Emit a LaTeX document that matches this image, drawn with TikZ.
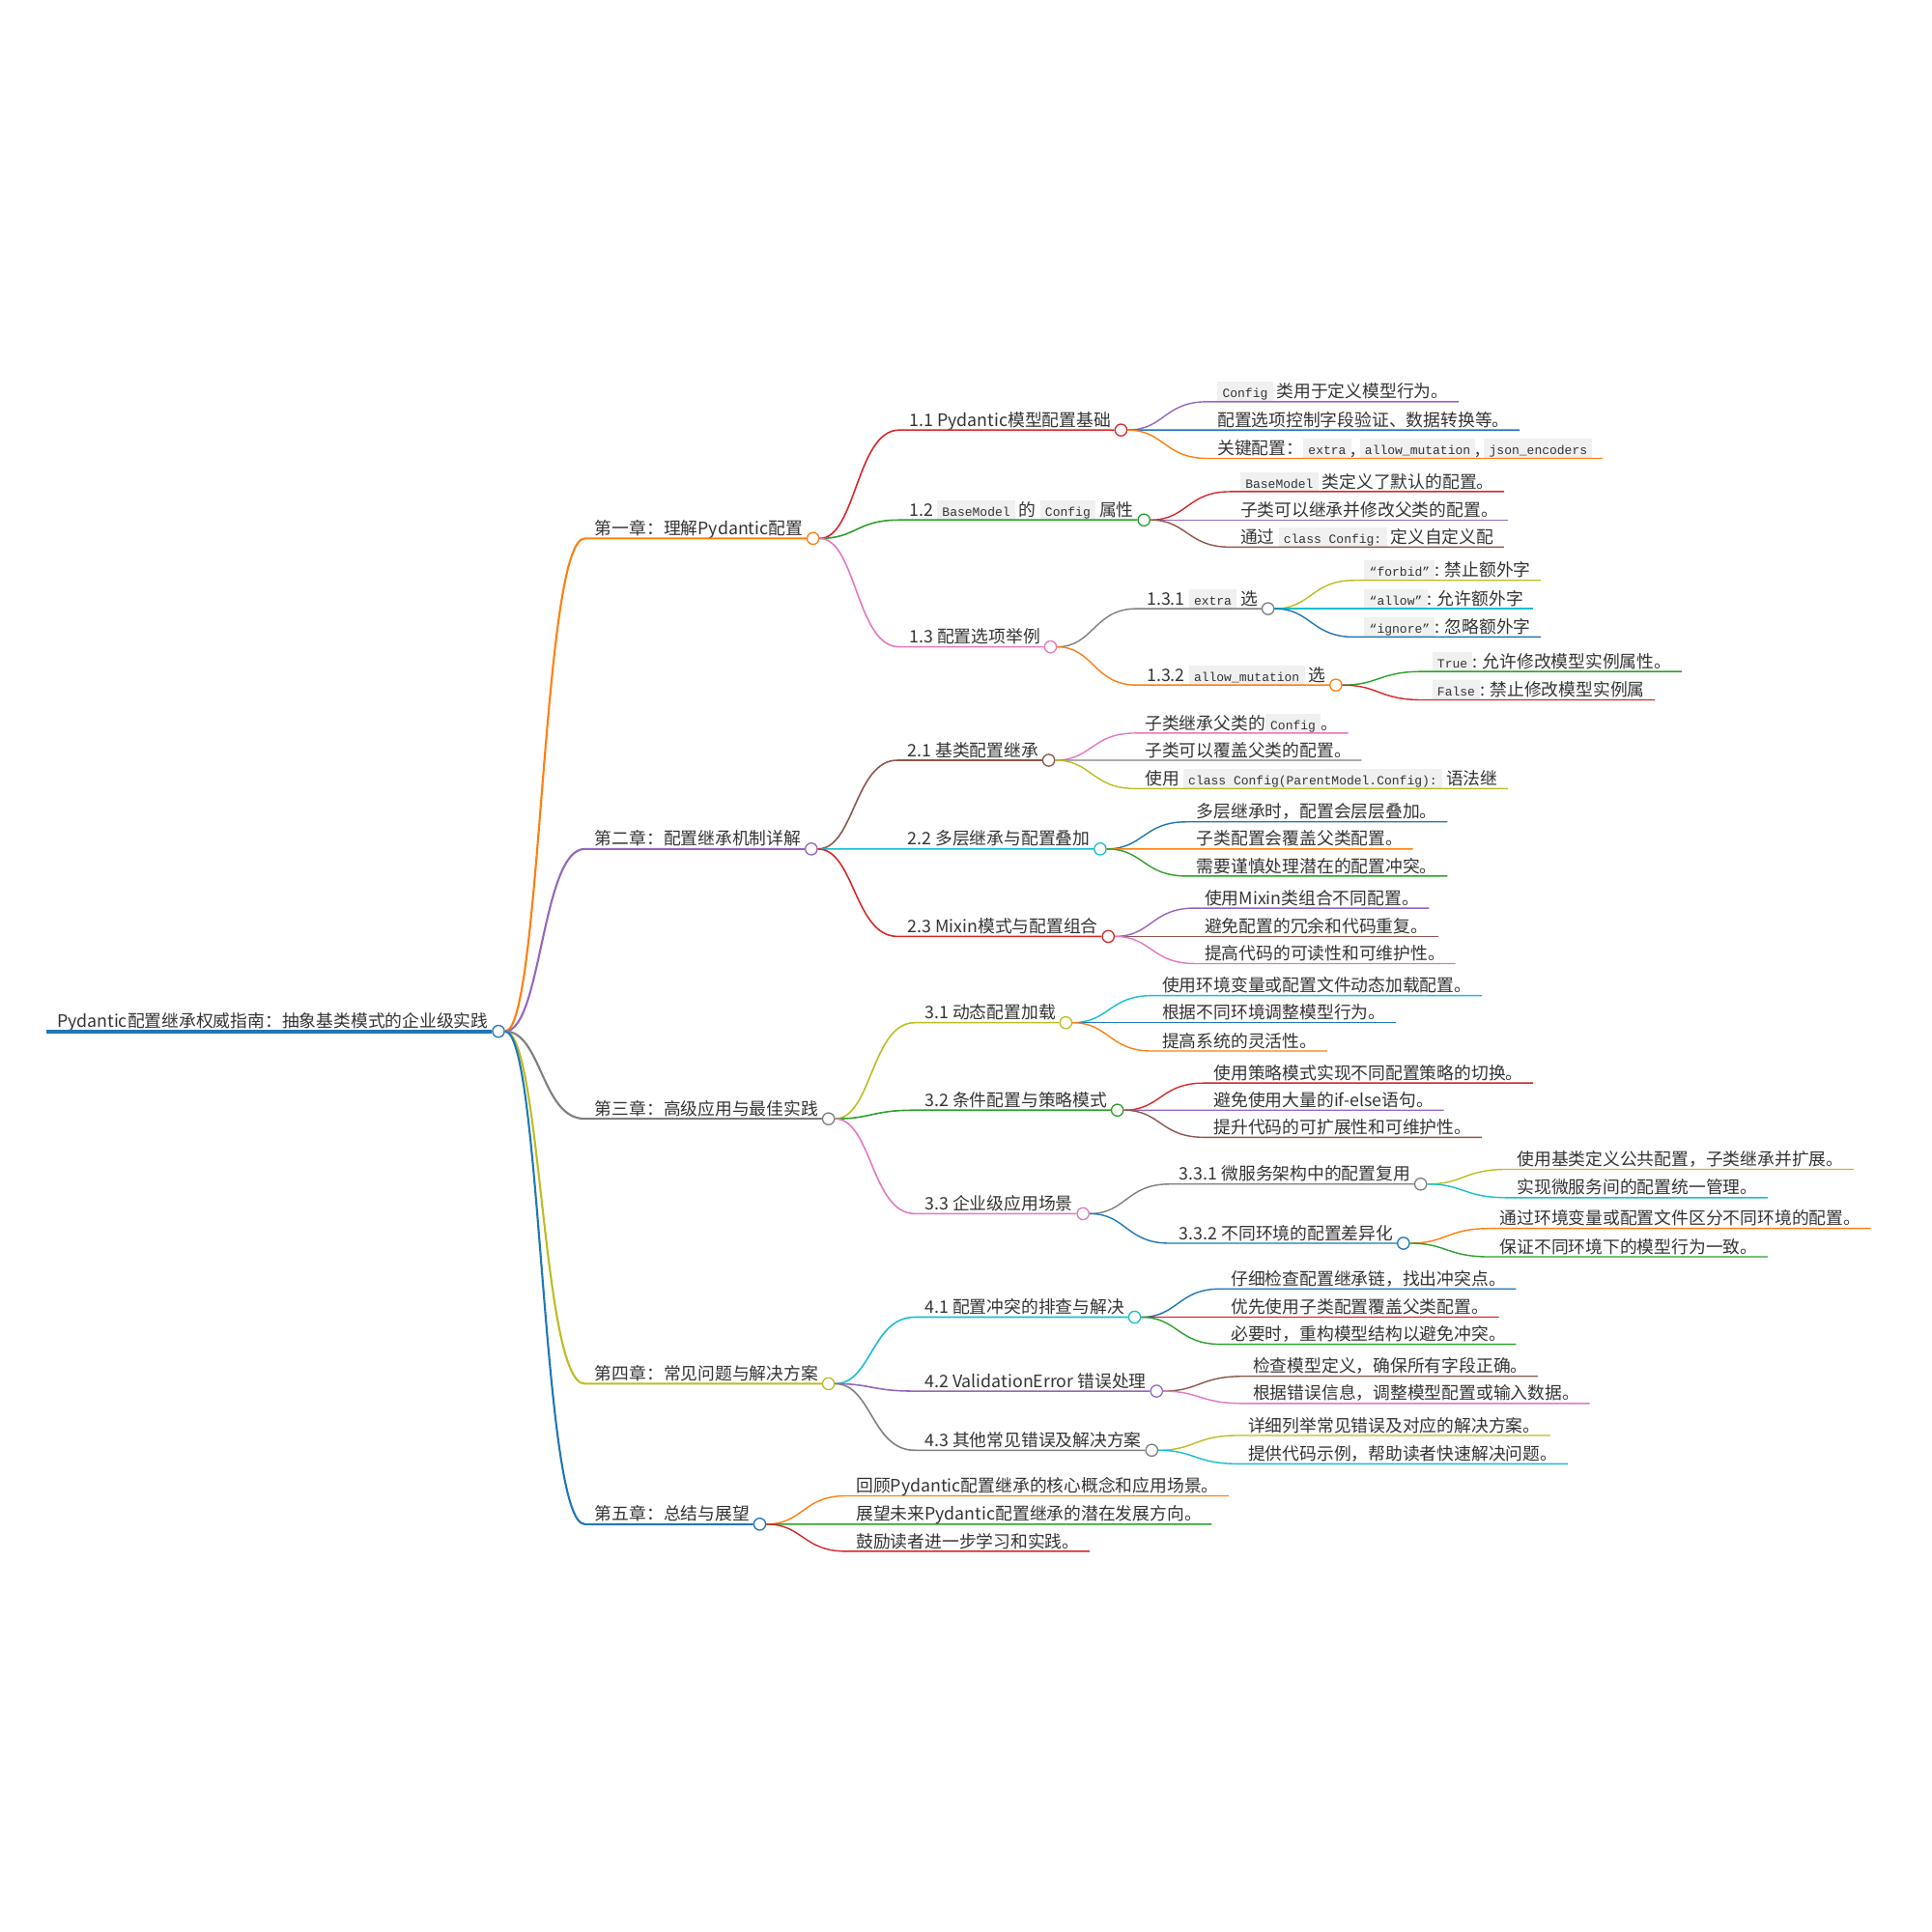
\documentclass[tikz,border=0pt]{standalone}
\usepackage{fontspec}
\setmainfont{Noto Sans CJK SC}
\setmonofont{Liberation Mono}
\usetikzlibrary{calc}
\definecolor{tblue}{HTML}{1F77B4}
\definecolor{torange}{HTML}{FF7F0E}
\definecolor{tgreen}{HTML}{2CA02C}
\definecolor{tred}{HTML}{D62728}
\definecolor{tpurple}{HTML}{9467BD}
\definecolor{tbrown}{HTML}{8C564B}
\definecolor{tpink}{HTML}{E377C2}
\definecolor{tgray}{HTML}{7F7F7F}
\definecolor{tolive}{HTML}{BCBD22}
\definecolor{tcyan}{HTML}{17BECF}
\definecolor{ink}{HTML}{333333}
\definecolor{codebg}{HTML}{F0F0F0}
\newcommand\code[1]{{\setlength{\fboxsep}{0pt}\colorbox{codebg}{\hspace{3pt}\rule[-2pt]{0pt}{11.4pt}\fontsize{7.4}{8}\ttfamily#1\hspace{3pt}}}}

\begin{document}
\begin{tikzpicture}[
  x=0.2551mm,y=-0.2551mm,
  every node/.style={font=\fontsize{10.12}{12}\selectfont,text=ink},
  topic/.style={anchor=south west,inner xsep=5.8pt,inner ysep=0.5pt,text depth=1.5pt},
  dot/.style={circle,draw=#1,fill=white,line width=0.75pt,minimum size=7pt,inner sep=0pt},
  branch/.style={to path={.. controls ($(\tikztostart)!0.5!(\tikztotarget|-\tikztostart)$)
    and ($(\tikztostart|-\tikztotarget)!0.5!(\tikztotarget)$) .. (\tikztotarget)}},
  chap/.style={line width=1.2pt},
  sect/.style={line width=0.9pt},
  leaf/.style={line width=0.8pt}
]
  \useasboundingbox (0,0) rectangle (1568,1568);

  \node[topic] (t0) at (38,837) {Pydantic配置继承权威指南：抽象基类模式的企业级实践};
  \node[dot=tblue] (d0) at (t0.south east) {};

  \node[topic] (t1) at ($(d0|-0,437)+(70,0)$) {第一章：理解Pydantic配置};
  \node[dot=torange] (d1) at (t1.south east) {};
  \node[topic] (t11) at ($(d1|-0,349)+(70,0)$) {1.1 Pydantic模型配置基础};
  \node[dot=tred] (d11) at (t11.south east) {};
  \node[topic] (t111) at ($(d11|-0,326)+(70,0)$) {\code{Config} 类用于定义模型行为。};
  \node[topic] (t112) at ($(d11|-0,349)+(70,0)$) {配置选项控制字段验证、数据转换等。};
  \node[topic] (t113) at ($(d11|-0,372)+(70,0)$) {关键配置：\code{extra}, \code{allow\_mutation}, \code{json\_encoders}};
  \node[topic] (t12) at ($(d1|-0,422)+(70,0)$) {1.2 \code{BaseModel} 的 \code{Config} 属性};
  \node[dot=tgreen] (d12) at (t12.south east) {};
  \node[topic] (t121) at ($(d12|-0,399)+(70,0)$) {\code{BaseModel} 类定义了默认的配置。};
  \node[topic] (t122) at ($(d12|-0,422)+(70,0)$) {子类可以继承并修改父类的配置。};
  \node[topic] (t123) at ($(d12|-0,444)+(70,0)$) {通过 \code{class Config:} 定义自定义配};
  \node[topic] (t13) at ($(d1|-0,525)+(70,0)$) {1.3 配置选项举例};
  \node[dot=tpink] (d13) at (t13.south east) {};
  \node[topic] (t131) at ($(d13|-0,494)+(70,0)$) {1.3.1 \code{extra} 选};
  \node[dot=tgray] (d131) at (t131.south east) {};
  \node[topic] (t1311) at ($(d131|-0,471)+(70,0)$) {\code{“forbid”}: 禁止额外字};
  \node[topic] (t1312) at ($(d131|-0,494)+(70,0)$) {\code{“allow”}: 允许额外字};
  \node[topic] (t1313) at ($(d131|-0,517)+(70,0)$) {\code{“ignore”}: 忽略额外字};
  \node[topic] (t132) at ($(d13|-0,556)+(70,0)$) {1.3.2 \code{allow\_mutation} 选};
  \node[dot=torange] (d132) at (t132.south east) {};
  \node[topic] (t1321) at ($(d132|-0,545)+(70,0)$) {\code{True}: 允许修改模型实例属性。};
  \node[topic] (t1322) at ($(d132|-0,568)+(70,0)$) {\code{False}: 禁止修改模型实例属};

  \node[topic] (t2) at ($(d0|-0,689)+(70,0)$) {第二章：配置继承机制详解};
  \node[dot=tpurple] (d2) at (t2.south east) {};
  \node[topic] (t21) at ($(d2|-0,617)+(70,0)$) {2.1 基类配置继承};
  \node[dot=tbrown] (d21) at (t21.south east) {};
  \node[topic] (t211) at ($(d21|-0,595)+(70,0)$) {子类继承父类的\code{Config}。};
  \node[topic] (t212) at ($(d21|-0,617)+(70,0)$) {子类可以覆盖父类的配置。};
  \node[topic] (t213) at ($(d21|-0,640)+(70,0)$) {使用 \code{class Config(ParentModel.Config):} 语法继};
  \node[topic] (t22) at ($(d2|-0,689)+(70,0)$) {2.2 多层继承与配置叠加};
  \node[dot=tcyan] (d22) at (t22.south east) {};
  \node[topic] (t221) at ($(d22|-0,667)+(70,0)$) {多层继承时，配置会层层叠加。};
  \node[topic] (t222) at ($(d22|-0,689)+(70,0)$) {子类配置会覆盖父类配置。};
  \node[topic] (t223) at ($(d22|-0,711)+(70,0)$) {需要谨慎处理潜在的配置冲突。};
  \node[topic] (t23) at ($(d2|-0,760)+(70,0)$) {2.3 Mixin模式与配置组合};
  \node[dot=tred] (d23) at (t23.south east) {};
  \node[topic] (t231) at ($(d23|-0,737)+(70,0)$) {使用Mixin类组合不同配置。};
  \node[topic] (t232) at ($(d23|-0,760)+(70,0)$) {避免配置的冗余和代码重复。};
  \node[topic] (t233) at ($(d23|-0,782)+(70,0)$) {提高代码的可读性和可维护性。};

  \node[topic] (t3) at ($(d0|-0,908)+(70,0)$) {第三章：高级应用与最佳实践};
  \node[dot=tgray] (d3) at (t3.south east) {};
  \node[topic] (t31) at ($(d3|-0,830)+(70,0)$) {3.1 动态配置加载};
  \node[dot=tolive] (d31) at (t31.south east) {};
  \node[topic] (t311) at ($(d31|-0,808)+(70,0)$) {使用环境变量或配置文件动态加载配置。};
  \node[topic] (t312) at ($(d31|-0,830)+(70,0)$) {根据不同环境调整模型行为。};
  \node[topic] (t313) at ($(d31|-0,853)+(70,0)$) {提高系统的灵活性。};
  \node[topic] (t32) at ($(d3|-0,901)+(70,0)$) {3.2 条件配置与策略模式};
  \node[dot=tgreen] (d32) at (t32.south east) {};
  \node[topic] (t321) at ($(d32|-0,879)+(70,0)$) {使用策略模式实现不同配置策略的切换。};
  \node[topic] (t322) at ($(d32|-0,901)+(70,0)$) {避免使用大量的if-else语句。};
  \node[topic] (t323) at ($(d32|-0,923)+(70,0)$) {提升代码的可扩展性和可维护性。};
  \node[topic] (t33) at ($(d3|-0,985)+(70,0)$) {3.3 企业级应用场景};
  \node[dot=tpink] (d33) at (t33.south east) {};
  \node[topic] (t331) at ($(d33|-0,961)+(70,0)$) {3.3.1 微服务架构中的配置复用};
  \node[dot=tgray] (d331) at (t331.south east) {};
  \node[topic] (t3311) at ($(d331|-0,949)+(70,0)$) {使用基类定义公共配置，子类继承并扩展。};
  \node[topic] (t3312) at ($(d331|-0,972)+(70,0)$) {实现微服务间的配置统一管理。};
  \node[topic] (t332) at ($(d33|-0,1009)+(70,0)$) {3.3.2 不同环境的配置差异化};
  \node[dot=tblue] (d332) at (t332.south east) {};
  \node[topic] (t3321) at ($(d332|-0,997)+(70,0)$) {通过环境变量或配置文件区分不同环境的配置。};
  \node[topic] (t3322) at ($(d332|-0,1020)+(70,0)$) {保证不同环境下的模型行为一致。};

  \node[topic] (t4) at ($(d0|-0,1123)+(70,0)$) {第四章：常见问题与解决方案};
  \node[dot=tolive] (d4) at (t4.south east) {};
  \node[topic] (t41) at ($(d4|-0,1069)+(70,0)$) {4.1 配置冲突的排查与解决};
  \node[dot=tcyan] (d41) at (t41.south east) {};
  \node[topic] (t411) at ($(d41|-0,1046)+(70,0)$) {仔细检查配置继承链，找出冲突点。};
  \node[topic] (t412) at ($(d41|-0,1069)+(70,0)$) {优先使用子类配置覆盖父类配置。};
  \node[topic] (t413) at ($(d41|-0,1091)+(70,0)$) {必要时，重构模型结构以避免冲突。};
  \node[topic] (t42) at ($(d4|-0,1129)+(70,0)$) {4.2 ValidationError 错误处理};
  \node[dot=tpurple] (d42) at (t42.south east) {};
  \node[topic] (t421) at ($(d42|-0,1117)+(70,0)$) {检查模型定义，确保所有字段正确。};
  \node[topic] (t422) at ($(d42|-0,1139)+(70,0)$) {根据错误信息，调整模型配置或输入数据。};
  \node[topic] (t43) at ($(d4|-0,1177)+(70,0)$) {4.3 其他常见错误及解决方案};
  \node[dot=tgray] (d43) at (t43.south east) {};
  \node[topic] (t431) at ($(d43|-0,1165)+(70,0)$) {详细列举常见错误及对应的解决方案。};
  \node[topic] (t432) at ($(d43|-0,1188)+(70,0)$) {提供代码示例，帮助读者快速解决问题。};

  \node[topic] (t5) at ($(d0|-0,1237)+(70,0)$) {第五章：总结与展望};
  \node[dot=tblue] (d5) at (t5.south east) {};
  \node[topic] (t51) at ($(d5|-0,1214)+(70,0)$) {回顾Pydantic配置继承的核心概念和应用场景。};
  \node[topic] (t52) at ($(d5|-0,1237)+(70,0)$) {展望未来Pydantic配置继承的潜在发展方向。};
  \node[topic] (t53) at ($(d5|-0,1259)+(70,0)$) {鼓励读者进一步学习和实践。};

  \draw[tblue,line width=2.25pt] (t0.south west) -- (d0);

  \draw[torange,chap] (d0) to[branch] (t1.south west) -- (d1);
  \draw[tred,sect] (d1) to[branch] (t11.south west) -- (d11);
  \draw[tpurple,leaf] (d11) to[branch] (t111.south west) -- (t111.south east);
  \draw[tblue,leaf] (d11) to[branch] (t112.south west) -- (t112.south east);
  \draw[torange,leaf] (d11) to[branch] (t113.south west) -- (t113.south east);
  \draw[tgreen,sect] (d1) to[branch] (t12.south west) -- (d12);
  \draw[tred,leaf] (d12) to[branch] (t121.south west) -- (t121.south east);
  \draw[tpurple,leaf] (d12) to[branch] (t122.south west) -- (t122.south east);
  \draw[tbrown,leaf] (d12) to[branch] (t123.south west) -- (t123.south east);
  \draw[tpink,sect] (d1) to[branch] (t13.south west) -- (d13);
  \draw[tgray,leaf] (d13) to[branch] (t131.south west) -- (d131);
  \draw[tolive,leaf] (d131) to[branch] (t1311.south west) -- (t1311.south east);
  \draw[tcyan,leaf] (d131) to[branch] (t1312.south west) -- (t1312.south east);
  \draw[tblue,leaf] (d131) to[branch] (t1313.south west) -- (t1313.south east);
  \draw[torange,leaf] (d13) to[branch] (t132.south west) -- (d132);
  \draw[tgreen,leaf] (d132) to[branch] (t1321.south west) -- (t1321.south east);
  \draw[tred,leaf] (d132) to[branch] (t1322.south west) -- (t1322.south east);

  \draw[tpurple,chap] (d0) to[branch] (t2.south west) -- (d2);
  \draw[tbrown,sect] (d2) to[branch] (t21.south west) -- (d21);
  \draw[tpink,leaf] (d21) to[branch] (t211.south west) -- (t211.south east);
  \draw[tgray,leaf] (d21) to[branch] (t212.south west) -- (t212.south east);
  \draw[tolive,leaf] (d21) to[branch] (t213.south west) -- (t213.south east);
  \draw[tcyan,sect] (d2) to[branch] (t22.south west) -- (d22);
  \draw[tblue,leaf] (d22) to[branch] (t221.south west) -- (t221.south east);
  \draw[torange,leaf] (d22) to[branch] (t222.south west) -- (t222.south east);
  \draw[tgreen,leaf] (d22) to[branch] (t223.south west) -- (t223.south east);
  \draw[tred,sect] (d2) to[branch] (t23.south west) -- (d23);
  \draw[tpurple,leaf] (d23) to[branch] (t231.south west) -- (t231.south east);
  \draw[tbrown,leaf] (d23) to[branch] (t232.south west) -- (t232.south east);
  \draw[tpink,leaf] (d23) to[branch] (t233.south west) -- (t233.south east);

  \draw[tgray,chap] (d0) to[branch] (t3.south west) -- (d3);
  \draw[tolive,sect] (d3) to[branch] (t31.south west) -- (d31);
  \draw[tcyan,leaf] (d31) to[branch] (t311.south west) -- (t311.south east);
  \draw[tblue,leaf] (d31) to[branch] (t312.south west) -- (t312.south east);
  \draw[torange,leaf] (d31) to[branch] (t313.south west) -- (t313.south east);
  \draw[tgreen,sect] (d3) to[branch] (t32.south west) -- (d32);
  \draw[tred,leaf] (d32) to[branch] (t321.south west) -- (t321.south east);
  \draw[tpurple,leaf] (d32) to[branch] (t322.south west) -- (t322.south east);
  \draw[tbrown,leaf] (d32) to[branch] (t323.south west) -- (t323.south east);
  \draw[tpink,sect] (d3) to[branch] (t33.south west) -- (d33);
  \draw[tgray,leaf] (d33) to[branch] (t331.south west) -- (d331);
  \draw[tolive,leaf] (d331) to[branch] (t3311.south west) -- (t3311.south east);
  \draw[tcyan,leaf] (d331) to[branch] (t3312.south west) -- (t3312.south east);
  \draw[tblue,leaf] (d33) to[branch] (t332.south west) -- (d332);
  \draw[torange,leaf] (d332) to[branch] (t3321.south west) -- (t3321.south east);
  \draw[tgreen,leaf] (d332) to[branch] (t3322.south west) -- (t3322.south east);

  \draw[tolive,chap] (d0) to[branch] (t4.south west) -- (d4);
  \draw[tcyan,sect] (d4) to[branch] (t41.south west) -- (d41);
  \draw[tblue,leaf] (d41) to[branch] (t411.south west) -- (t411.south east);
  \draw[tred,leaf] (d41) to[branch] (t412.south west) -- (t412.south east);
  \draw[tgreen,leaf] (d41) to[branch] (t413.south west) -- (t413.south east);
  \draw[tpurple,sect] (d4) to[branch] (t42.south west) -- (d42);
  \draw[tbrown,leaf] (d42) to[branch] (t421.south west) -- (t421.south east);
  \draw[tpink,leaf] (d42) to[branch] (t422.south west) -- (t422.south east);
  \draw[tgray,sect] (d4) to[branch] (t43.south west) -- (d43);
  \draw[tolive,leaf] (d43) to[branch] (t431.south west) -- (t431.south east);
  \draw[tcyan,leaf] (d43) to[branch] (t432.south west) -- (t432.south east);

  \draw[tblue,chap] (d0) to[branch] (t5.south west) -- (d5);
  \draw[torange,leaf] (d5) to[branch] (t51.south west) -- (t51.south east);
  \draw[tgreen,leaf] (d5) to[branch] (t52.south west) -- (t52.south east);
  \draw[tred,leaf] (d5) to[branch] (t53.south west) -- (t53.south east);
\end{tikzpicture}
\end{document}
